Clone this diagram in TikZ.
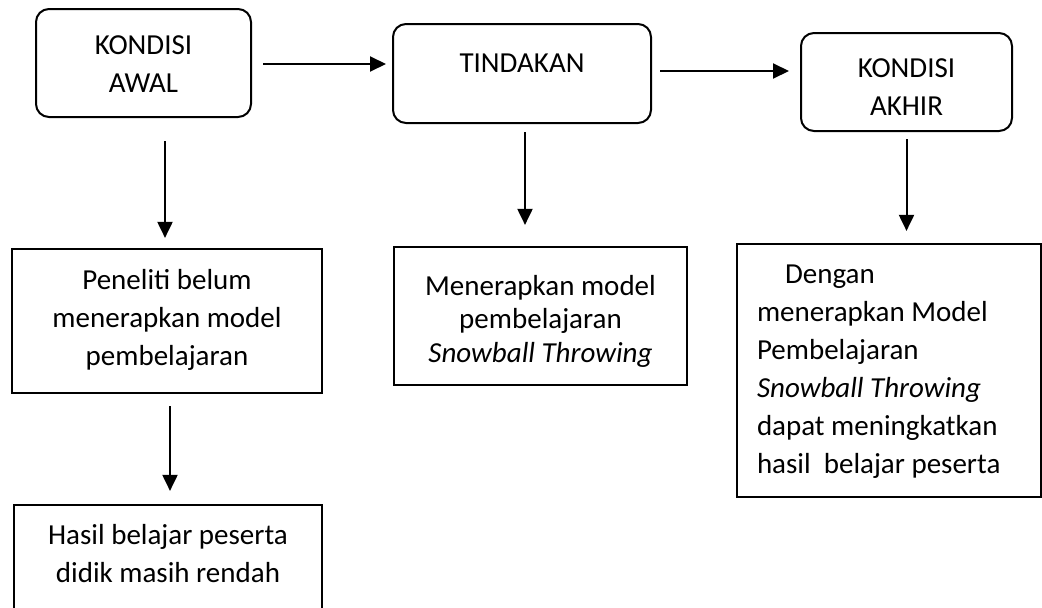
\documentclass[tikz,border=0pt]{standalone}
\usepackage{fontspec}
\setmainfont{Carlito}
\usetikzlibrary{arrows.meta,calc}
\begin{document}
\begin{tikzpicture}[x=1pt,y=-1pt,
  box/.style={draw=black,line width=2.2pt,inner sep=0pt,text height=0pt,text depth=0pt,
    font=\fontsize{29pt}{38pt}\selectfont,align=center},
  rbox/.style={box,rounded corners=13pt,line width=2pt},
  arr/.style={line width=2pt,-{Triangle[length=16pt,width=15pt]}}]
\clip (0,0) rectangle (1042,608);
\fill[white] (0,0) rectangle (1042,608);
\node[rbox,minimum width=215pt,minimum height=108pt,text height=58pt] (k1) at (143.5,63) {KONDISI\\AWAL};
\node[rbox,minimum width=258pt,minimum height=99pt,text depth=3pt] (t) at (522,73.5) {TINDAKAN};
\node[rbox,minimum width=211pt,minimum height=98pt,text height=66pt] (k2) at (906.5,82) {KONDISI\\AKHIR};
\node[box,minimum width=310pt,minimum height=144pt,text height=88pt] (p) at (167,321) {Peneliti belum\\menerapkan model\\pembelajaran};
\node[box,minimum width=308pt,minimum height=145pt,text height=9pt] (h) at (168,577.5) {Hasil belajar peserta\\didik masih rendah};
\node[box,minimum width=293pt,minimum height=138pt,text height=92pt,font=\fontsize{29pt}{33.5pt}\selectfont] (m) at (540.5,316) {Menerapkan model\\pembelajaran\\\textit{Snowball Throwing}};
\node[box,minimum width=304pt,minimum height=253pt,text height=0pt,text depth=175pt,align=flush left,text width=264pt] (d) at (889,370.5) {\hspace*{28pt}Dengan\\menerapkan Model\\Pembelajaran\\\textit{Snowball Throwing}\\dapat meningkatkan\\hasil\ \ belajar peserta};
\draw[arr] ($(k1.east)+(11,1)$) -- ($(k1.east -| t.west)+(-6,1)$);
\draw[arr] ($(t.east)+(8,-2.5)$) -- ($(t.east -| k2.west)+(-11,-2.5)$);
\draw[arr] ($(k1.south)+(21.5,23)$) -- ($(k1.south |- p.north)+(21.5,-10)$);
\draw[arr] ($(p.south)+(3,12)$) -- ($(p.south |- h.north)+(3,-13)$);
\draw[arr] ($(t.south)+(3,8)$) -- ($(t.south |- m.north)+(3,-21)$);
\draw[arr] ($(k2.south)+(0,7)$) -- ($(k2.south |- d.north)+(0,-12)$);
\end{tikzpicture}
\end{document}
